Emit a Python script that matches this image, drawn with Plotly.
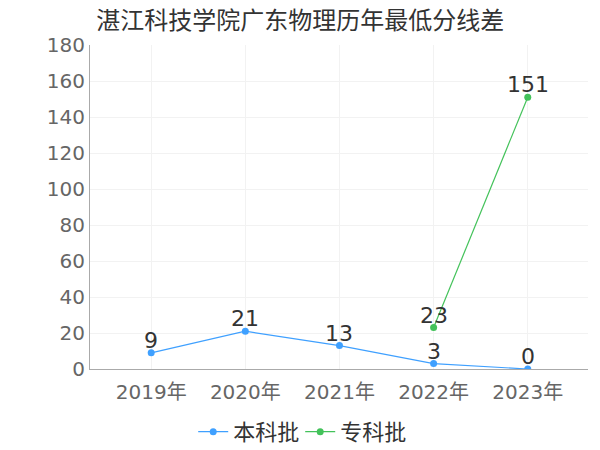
import plotly.graph_objects as go

years = ["2019年", "2020年", "2021年", "2022年", "2023年"]
benke = [9, 21, 13, 3, 0]
zhuanke = [None, None, None, 23, 151]

font_family = "DejaVu Sans, Noto Sans CJK SC"
blue = "#3fa0ff"
green = "#43c25a"

fig = go.Figure()
fig.add_trace(go.Scatter(
    x=years, y=benke, name="本科批", mode="lines+markers",
    line=dict(color=blue, width=1.2), marker=dict(size=7, color=blue),
))
fig.add_trace(go.Scatter(
    x=years, y=zhuanke, name="专科批", mode="lines+markers",
    line=dict(color=green, width=1.2), marker=dict(size=7, color=green),
))

# value labels sit just above each point
for series in (benke, zhuanke):
    for yr, v in zip(years, series):
        if v is None:
            continue
        fig.add_annotation(x=yr, y=v, text=str(v), showarrow=False,
                           yanchor="bottom", yshift=-2,
                           font=dict(size=22, color="#333333"))

# the page body adds an 8px offset, so margins are shifted to compensate
fig.update_layout(
    width=600, height=450,
    margin=dict(l=82, r=20, t=37, b=89),
    paper_bgcolor="white", plot_bgcolor="white",
    font=dict(family=font_family),
    title=dict(text="湛江科技学院广东物理历年最低分线差", x=0.487, xanchor="center",
               y=0.972, yanchor="middle", font=dict(size=24, color="#333333")),
    showlegend=True,
    legend=dict(orientation="h", xref="container", yref="container",
                x=0.487, xanchor="center", y=0.058, yanchor="middle",
                font=dict(size=22, color="#333333"),
                entrywidth=62, entrywidthmode="pixels"),
)
fig.update_xaxes(
    type="category", range=[-0.65, 4.64], automargin=False,
    showline=True, linecolor="#aaaaaa", linewidth=1,
    showgrid=True, gridcolor="#f2f2f2", ticklabelstandoff=5,
    tickfont=dict(size=20, color="#666666"), ticks="",
)
fig.update_yaxes(
    range=[0, 180], dtick=20, automargin=False,
    showline=True, linecolor="#aaaaaa", linewidth=1,
    showgrid=True, gridcolor="#f2f2f2", zeroline=False,
    tickfont=dict(size=20, color="#666666"), ticks="",
)

fig.write_html("out.html")
